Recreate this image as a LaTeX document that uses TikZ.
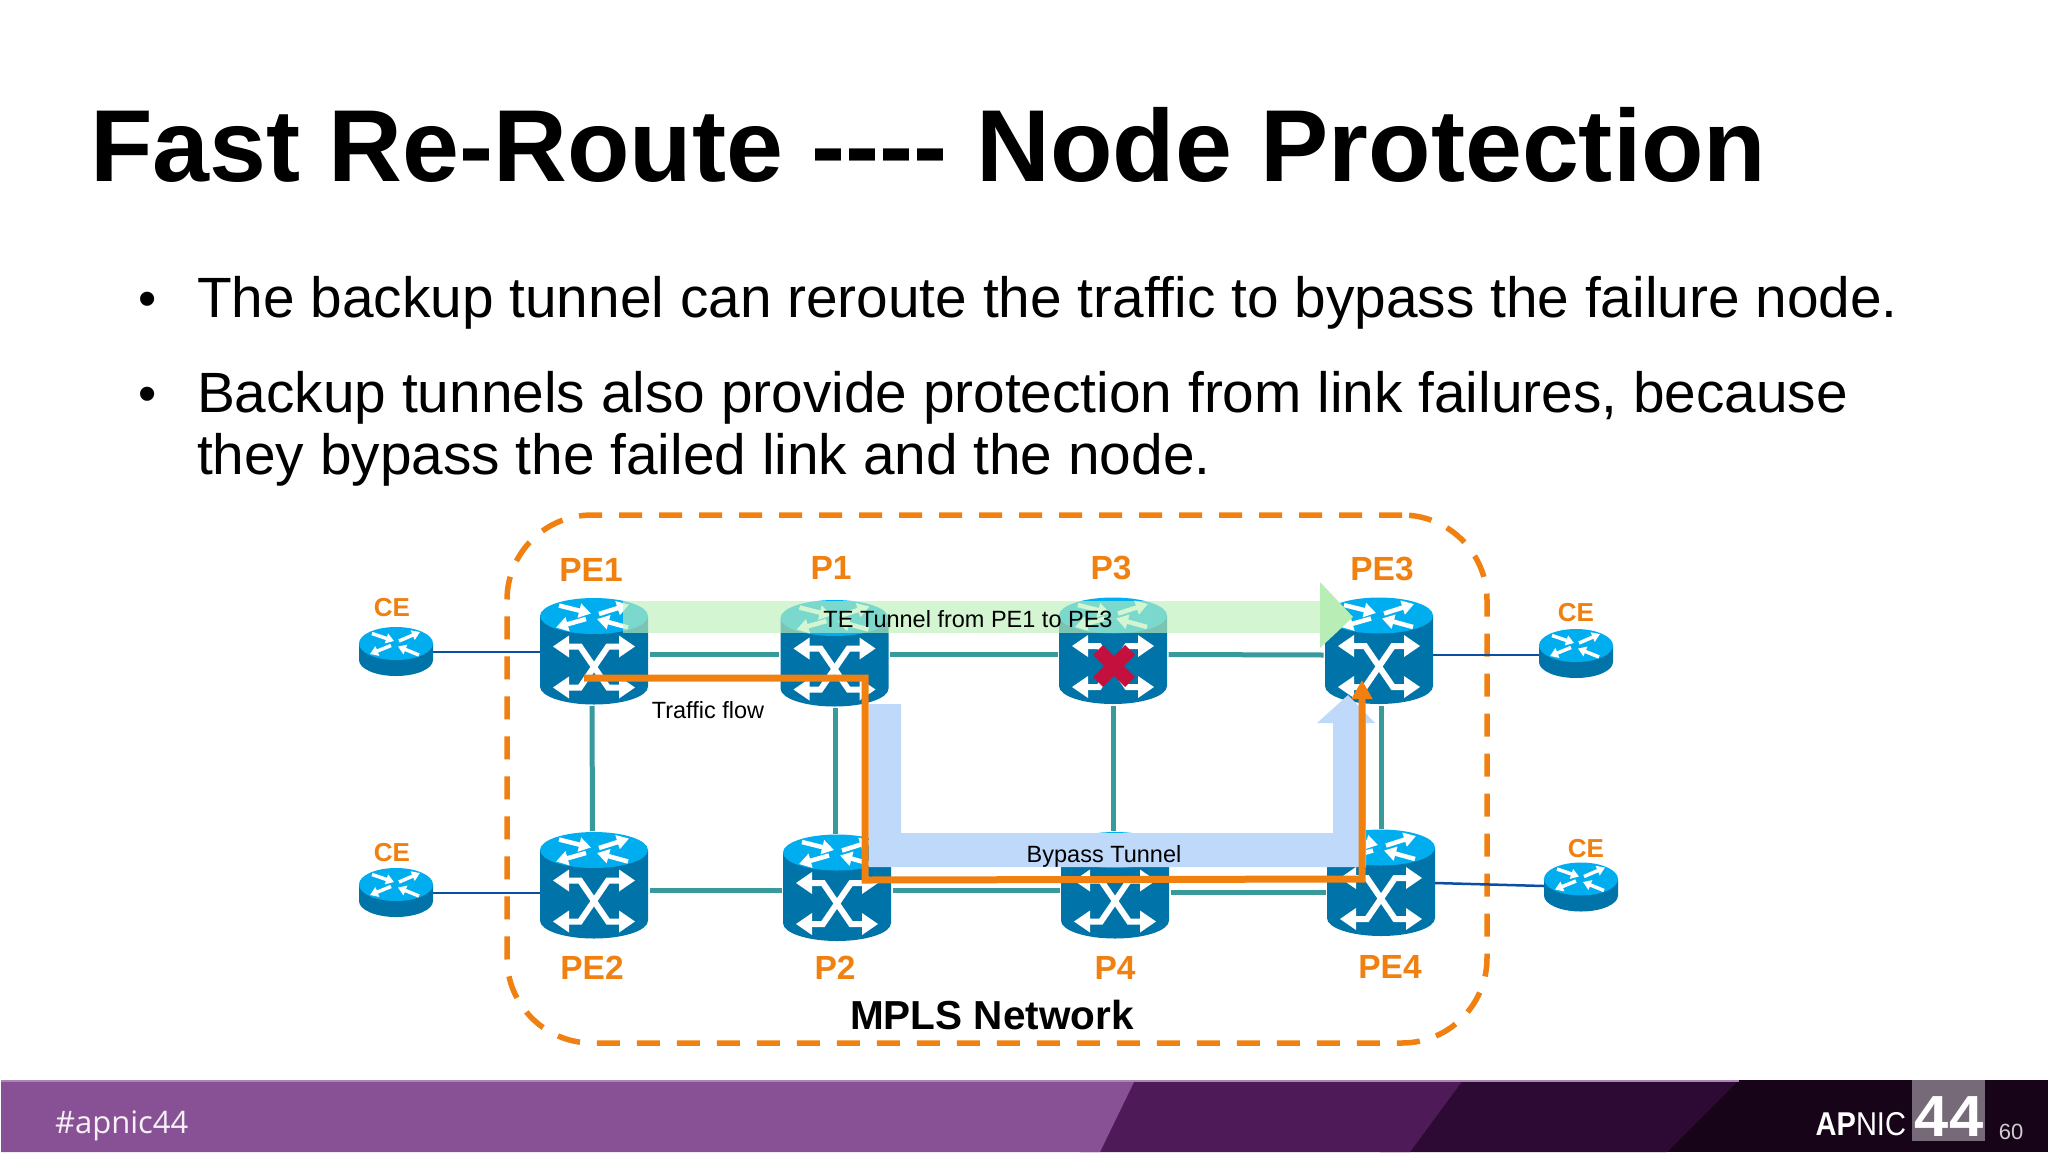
\documentclass[tikz,border=0pt]{standalone}
\usepackage{fontspec}
\setmainfont{Liberation Sans}
\newfontfamily\tagfont{Open Sans}
\usetikzlibrary{arrows.meta}
\definecolor{rbody}{HTML}{0073A8}
\definecolor{rtop}{HTML}{00AEEF}
\definecolor{orng}{HTML}{F08010}
\definecolor{teal2}{HTML}{389A9B}
\definecolor{linkblue}{HTML}{0B4EA2}
\definecolor{tunblue}{HTML}{BFD9FB}
\definecolor{tungreen}{HTML}{BDF0BA}
\definecolor{headgreen}{HTML}{B8EEB5}
\definecolor{failred}{HTML}{C4103C}
\definecolor{barA}{HTML}{895195}
\definecolor{barB}{HTML}{4E1A58}
\definecolor{barC}{HTML}{2D0A33}
\definecolor{barD}{HTML}{170418}
\definecolor{grayq}{HTML}{766A78}
\newcommand{\fsz}[1]{\fontsize{#1}{#1}\selectfont}
\newcommand{\topglyphs}{%
  \draw[white,line width=4.5pt,-{Triangle[length=12pt,width=14pt]}] (-35,-46) -- (-3,-38);
  \draw[white,line width=4.5pt,-{Triangle[length=12pt,width=14pt]}] (5,-37.5) -- (35,-47);
  \draw[white,line width=4.5pt,-{Triangle[length=12pt,width=14pt]}] (-8,-32.5) -- (-38,-24);
  \draw[white,line width=4.5pt,-{Triangle[length=12pt,width=14pt]}] (34,-24) -- (3,-32.5);
}
\tikzset{
  txt/.style={inner sep=0pt,outer sep=0pt},
  bul/.style={txt,anchor=base west,font=\fsz{56.8}},
  dotmark/.style={txt,anchor=base west,font=\fsz{52}},
  olabel/.style={txt,text=orng,font=\bfseries\fsz{33.5}},
  clabel/.style={txt,text=orng,font=\bfseries\fsz{26}},
  note/.style={txt,text=black,font=\fsz{23.5}},
  rtr/.style={inner sep=0pt,outer sep=0pt,minimum width=108pt,minimum height=106pt},
  cer/.style={inner sep=0pt,outer sep=0pt,minimum width=74pt,minimum height=49pt},
  tealink/.style={teal2,line width=5pt,shorten >=1.5pt,shorten <=1.5pt},
  celink/.style={linkblue,line width=2.5pt},
  bigrouter/.pic={
    \fill[rbody] (-54,-35.5) -- (-54,35) arc[start angle=180,end angle=360,x radius=54pt,y radius=18pt] -- (54,-35.5) -- cycle;
    \fill[rtop] (0,-35.5) circle[x radius=54pt,y radius=18pt];
    \topglyphs
    \draw[white,line width=6pt,line join=miter] (-28,-5) -- (-14,-5) -- (14,36) -- (28,36);
    \draw[white,line width=6pt,line join=miter] (-28,36) -- (-14,36) -- (14,-5) -- (28,-5);
    \fill[white] (-41,-5) -- (-25,-16) -- (-25,6) -- cycle;
    \fill[white] (41,-5) -- (25,-16) -- (25,6) -- cycle;
    \fill[white] (-41,36) -- (-25,25) -- (-25,47) -- cycle;
    \fill[white] (41,36) -- (25,25) -- (25,47) -- cycle;
  },
  cerouter/.pic={
    \fill[rbody] (-37,-8) -- (-37,8.5) arc[start angle=180,end angle=360,x radius=37pt,y radius=16pt] -- (37,-8) -- cycle;
    \fill[rtop] (0,-8) circle[x radius=37pt,y radius=16.5pt];
    \begin{scope}[shift={(0,-8)}]
      \draw[white,line width=3.5pt,-{Triangle[length=8pt,width=10pt]}] (-24,-10) -- (-2,-2.5);
      \draw[white,line width=3.5pt,-{Triangle[length=8pt,width=10pt]}] (3,-2.5) -- (24,-11.5);
      \draw[white,line width=3.5pt,-{Triangle[length=8pt,width=10pt]}] (-5,2) -- (-26,10.5);
      \draw[white,line width=3.5pt,-{Triangle[length=8pt,width=10pt]}] (23,11.5) -- (2,3);
    \end{scope}
  },
}
\begin{document}
\begin{tikzpicture}[x=1pt,y=-1pt]
\useasboundingbox (0,0) rectangle (2048,1152);
\fill[white] (0,0) rectangle (2048,1152);
% Title and text
\node[txt,anchor=base west,font=\bfseries\fsz{102.3}] (title) at (90,181) {Fast Re-Route -{}-{}-{}- Node Protection};
\node[dotmark] (b1) at (138,316) {•};
\node[bul] (t1) at (197,317) {The backup tunnel can reroute the traffic to bypass the failure node.};
\node[dotmark] (b2) at (138,411) {•};
\node[bul] (t2) at (197,412) {Backup tunnels also provide protection from link failures, because};
\node[bul] (t3) at (197,474) {they bypass the failed link and the node.};
% MPLS cloud
\node[rectangle,draw=orng,line width=5.5pt,rounded corners=85pt,dash pattern=on 23pt off 17pt,
  minimum width=980pt,minimum height=528pt,inner sep=0pt] (cloud) at (997,779) {};
% node anchors
\node[rtr] (PE1) at (594,651.5) {};
\node[rtr] (P1) at (834.5,653.5) {};
\node[rtr] (P3) at (1113,651) {};
\node[rtr] (PE3) at (1379,651) {};
\node[rtr] (PE2) at (594,885.5) {};
\node[rtr] (P2) at (837,888) {};
\node[rtr] (P4) at (1115,885.5) {};
\node[rtr] (PE4) at (1381,883) {};
\node[cer] (CE1) at (396,651.5) {};
\node[cer] (CE2) at (396,892.5) {};
\node[cer] (CE3) at (1576,653.5) {};
\node[cer] (CE4) at (1581,887) {};
% links
\draw[tealink] ([yshift=-2.5pt]PE1.east) -- ([yshift=-.5pt]P1.west);
\draw[tealink] ([yshift=-.5pt]P1.east) -- ([yshift=-3pt]P3.west);
\draw[tealink] ([yshift=-3.5pt]P3.east) -- ([yshift=-4pt]PE3.west);
\draw[tealink] ([yshift=-4.5pt]PE2.east) -- ([yshift=-2pt]P2.west);
\draw[tealink] ([yshift=-2pt]P2.east) -- ([yshift=-4.5pt]P4.west);
\draw[tealink] ([yshift=-6.5pt]P4.east) -- ([yshift=-9pt]PE4.west);
\draw[tealink] ([xshift=-2pt]PE1.south) -- ([xshift=-1.5pt]PE2.north);
\draw[tealink] ([xshift=.5pt]P1.south) -- ([xshift=-2pt]P2.north);
\draw[tealink] (P3.south) -- ([xshift=-2pt]P4.north);
\draw[tealink] ([xshift=2pt]PE3.south) -- (PE4.north);
\draw[celink] ([yshift=-.5pt]CE1.east) -- ([yshift=-.5pt]PE1.west);
\draw[celink] ([yshift=-.5pt]CE2.east) -- ([yshift=-7.5pt]PE2.west);
\draw[celink] ([yshift=-4pt]PE3.east) -- ([yshift=-1.5pt]CE3.west);
\draw[celink] (PE4.east) -- ([yshift=1pt]CE4.west);
% routers
\foreach \n in {PE1,P1,P3,PE3,PE2,P2,P4,PE4} {\pic at (\n) {bigrouter};}
\foreach \n in {CE1,CE2,CE3,CE4} {\pic at (\n) {cerouter};}
% failure mark
\draw[failred,line width=14pt] (1098,650) -- (1130,682);
\draw[failred,line width=14pt] (1130,650) -- (1098,682);
% green tunnel
\fill[tungreen,fill opacity=.65] (623,601) rectangle (1320,633);
\fill[headgreen] (1320,582) -- (1353,617) -- (1320,648) -- cycle;
% blue bypass
\fill[tunblue] (869,704) -- (901,704) -- (901,833) -- (1333,833) -- (1333,723) -- (1317,723) -- (1348,695) -- (1375,723) -- (1366,723) -- (1366,867) -- (869,867) -- cycle;
% traffic flow
\coordinate (fa) at (584,678);
\coordinate (fb) at (865,678);
\coordinate (fc) at (865,880);
\coordinate (fd) at (1362,879);
\coordinate (fe) at (1362,680);
\draw[orng,line width=7pt,line join=miter,-{Triangle[length=19pt,width=20pt]}] (fa) -- (fb) -- (fc) -- (fd) -- (fe);
% labels
\node[olabel] (lPE1) at (591,570) {PE1};
\node[olabel] (lP1) at (831,568) {P1};
\node[olabel] (lP3) at (1111,568) {P3};
\node[olabel] (lPE3) at (1382,569) {PE3};
\node[olabel] (lPE2) at (592,968) {PE2};
\node[olabel] (lP2) at (835,968) {P2};
\node[olabel] (lP4) at (1115,968) {P4};
\node[olabel] (lPE4) at (1390,967) {PE4};
\node[clabel] (lCE1) at (392,608) {CE};
\node[clabel] (lCE2) at (392,853) {CE};
\node[clabel] (lCE3) at (1576,613) {CE};
\node[clabel] (lCE4) at (1586,849) {CE};
\node[note] (te) at (968,619) {TE Tunnel from PE1 to PE3};
\node[note] (tf) at (708,710) {Traffic flow};
\node[note] (bt) at (1104,856) {Bypass Tunnel};
\node[txt,font=\bfseries\fsz{40.5}] (mpls) at (992,1015) {MPLS Network};
% footer
\fill[barD] (1650,1080) rectangle (2048,1152);
\fill[barC] (1380,1080) -- (1739,1080) -- (1667,1152) -- (1380,1152) -- cycle;
\fill[barB] (1080,1080) -- (1463,1080) -- (1410,1152) -- (1080,1152) -- cycle;
\fill[barA] (1,1080) -- (1135,1080) -- (1100,1152) -- (1,1152) -- cycle;
\fill[barA!70!white] (1,1080) rectangle (1739,1082);
\fill[grayq] (1912,1080) rectangle (1985,1141);
\node[txt,anchor=base west,text=white!92!barA,font=\tagfont\fsz{31}] (tag) at (55,1133) {\#apnic44};
\node[txt,anchor=base east,text=white,xscale=.88,font=\fsz{33}] (apnic) at (1906,1135) {\textbf{AP}NIC};
\node[txt,anchor=base,text=white,xscale=1.06,font=\bfseries\fsz{58}] (yr) at (1949,1136) {44};
\node[txt,anchor=base,text=white!80!barD,font=\fsz{22}] (pg) at (2011,1139) {60};
\end{tikzpicture}
\end{document}
